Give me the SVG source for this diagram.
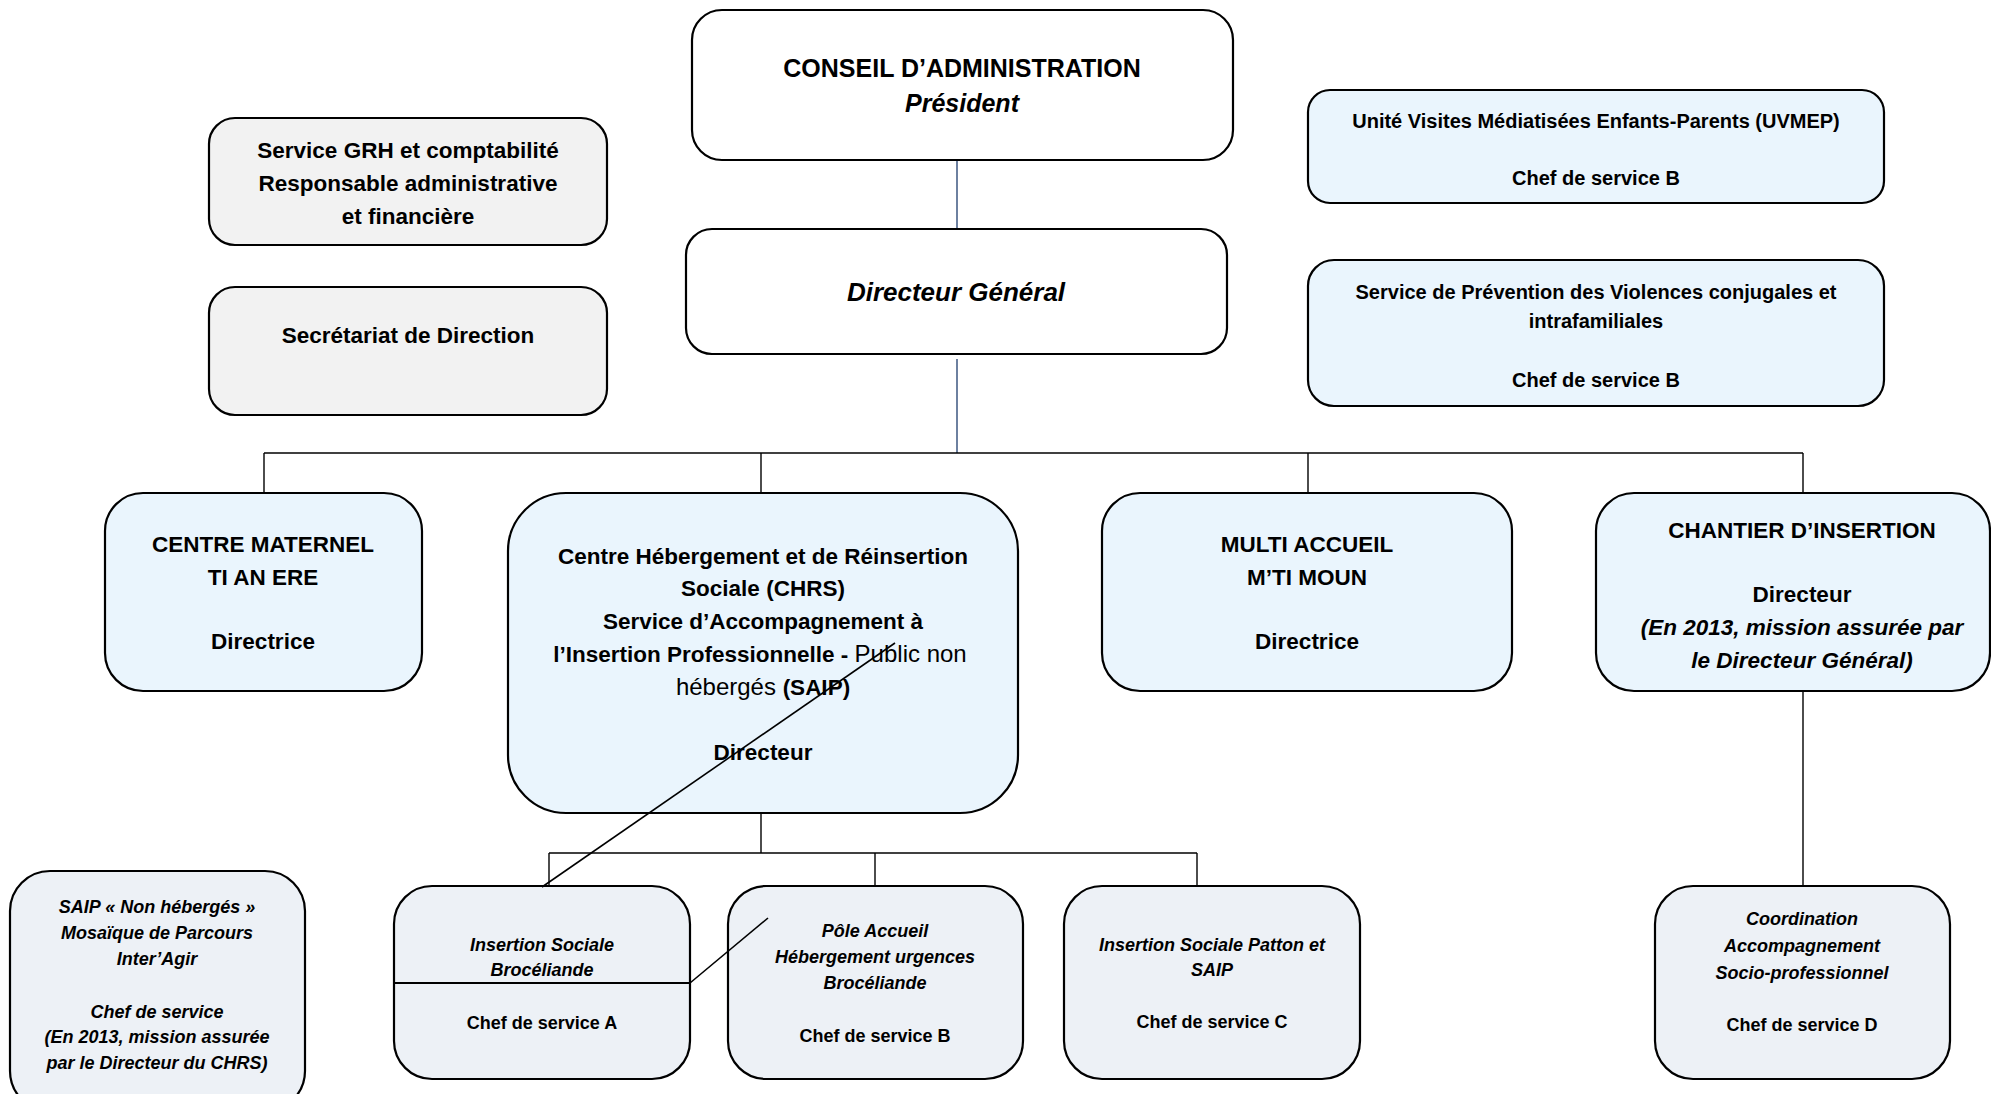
<svg xmlns="http://www.w3.org/2000/svg" width="1991" height="1094" viewBox="0 0 1991 1094">
<style>
  text { font-family: "Liberation Sans", Arial, sans-serif; fill: #000; text-anchor: middle; font-weight: bold; }
  .box { stroke: #000; stroke-width: 2.2; }
  .white { fill: #ffffff; }
  .gray { fill: #f2f2f2; }
  .blue { fill: #eaf5fd; }
  .pale { fill: #edf1f6; }
  .it { font-style: italic; }
  .reg { font-weight: normal; font-size: 24px; }
  .t26 { font-size: 25px; }
  .t23 { font-size: 22.5px; }
  .t20 { font-size: 20px; }
  .t18 { font-size: 18px; }
  .conn line, .conn polyline { stroke: #000; stroke-width: 1.4; fill: none; }
  .conn .navy { stroke: #2e4a78; }
</style>

<g id="connectors" class="conn">
  <line class="navy" x1="957" y1="160" x2="957" y2="229"/>
  <line class="navy" x1="957" y1="359" x2="957" y2="453"/>
  <line x1="264" y1="453" x2="1803" y2="453"/>
  <line x1="264" y1="453" x2="264" y2="493"/>
  <line x1="761" y1="453" x2="761" y2="493"/>
  <line x1="1308" y1="453" x2="1308" y2="493"/>
  <line x1="1803" y1="453" x2="1803" y2="493"/>
  <line x1="761" y1="813" x2="761" y2="853"/>
  <line x1="549" y1="853" x2="1197" y2="853"/>
  <line x1="549" y1="853" x2="549" y2="886"/>
  <line x1="875" y1="853" x2="875" y2="886"/>
  <line x1="1197" y1="853" x2="1197" y2="886"/>
  <line x1="1803" y1="691" x2="1803" y2="886"/>
</g>

<g id="conseil">
  <rect class="box white" x="692" y="10" width="541" height="150" rx="30"/>
  <text class="t26" x="962" y="77">CONSEIL D’ADMINISTRATION</text>
  <text class="t26 it" x="962" y="112">Président</text>
</g>

<g id="directeur-general">
  <rect class="box white" x="686" y="229" width="541" height="125" rx="26"/>
  <text class="t26 it" x="956" y="301" style="font-size:26px">Directeur Général</text>
</g>

<g id="grh">
  <rect class="box gray" x="209" y="118" width="398" height="127" rx="26"/>
  <text class="t23" x="408" y="158">Service GRH et comptabilité</text>
  <text class="t23" x="408" y="191">Responsable administrative</text>
  <text class="t23" x="408" y="224">et financière</text>
</g>

<g id="secretariat">
  <rect class="box gray" x="209" y="287" width="398" height="128" rx="26"/>
  <text class="t23" x="408" y="343">Secrétariat de Direction</text>
</g>

<g id="uvmep">
  <rect class="box blue" x="1308" y="90" width="576" height="113" rx="22"/>
  <text class="t20" x="1596" y="128">Unité Visites Médiatisées Enfants-Parents (UVMEP)</text>
  <text class="t20" x="1596" y="185">Chef de service B</text>
</g>

<g id="violences">
  <rect class="box blue" x="1308" y="260" width="576" height="146" rx="26"/>
  <text class="t20" x="1596" y="299">Service de Prévention des Violences conjugales et</text>
  <text class="t20" x="1596" y="328">intrafamiliales</text>
  <text class="t20" x="1596" y="387">Chef de service B</text>
</g>

<g id="centre-maternel">
  <rect class="box blue" x="105" y="493" width="317" height="198" rx="38"/>
  <text class="t23" x="263" y="552">CENTRE MATERNEL</text>
  <text class="t23" x="263" y="585">TI AN ERE</text>
  <text class="t23" x="263" y="649">Directrice</text>
</g>

<g id="chrs">
  <rect class="box blue" x="508" y="493" width="510" height="320" rx="58"/>
  <text class="t23" x="763" y="564">Centre Hébergement et de Réinsertion</text>
  <text class="t23" x="763" y="596">Sociale (CHRS)</text>
  <text class="t23" x="763" y="629">Service d’Accompagnement à</text>
  <text class="t23" x="760" y="662">l’Insertion Professionnelle - <tspan class="reg">Public non</tspan></text>
  <text class="t23" x="763" y="695"><tspan class="reg">hébergés </tspan>(SAIP)</text>
  <text class="t23" x="763" y="760">Directeur</text>
</g>

<g id="multi-accueil">
  <rect class="box blue" x="1102" y="493" width="410" height="198" rx="38"/>
  <text class="t23" x="1307" y="552">MULTI ACCUEIL</text>
  <text class="t23" x="1307" y="585">M’TI MOUN</text>
  <text class="t23" x="1307" y="649">Directrice</text>
</g>

<g id="chantier">
  <rect class="box blue" x="1596" y="493" width="394" height="198" rx="38"/>
  <text class="t23" x="1802" y="538">CHANTIER D’INSERTION</text>
  <text class="t23" x="1802" y="602">Directeur</text>
  <text class="t23 it" x="1802" y="635">(En 2013, mission assurée par</text>
  <text class="t23 it" x="1802" y="668">le Directeur Général)</text>
</g>

<g id="saip">
  <rect class="box pale" x="10" y="871" width="295" height="240" rx="40"/>
  <text class="t18 it" x="157" y="913">SAIP « Non hébergés »</text>
  <text class="t18 it" x="157" y="939">Mosaïque de Parcours</text>
  <text class="t18 it" x="157" y="965">Inter’Agir</text>
  <text class="t18 it" x="157" y="1018">Chef de service</text>
  <text class="t18 it" x="157" y="1043">(En 2013, mission assurée</text>
  <text class="t18 it" x="157" y="1069">par le Directeur du CHRS)</text>
</g>

<g id="insertion-sociale-broceliande">
  <rect class="box pale" x="394" y="886" width="296" height="193" rx="38"/>
  <line x1="394" y1="983" x2="690" y2="983" stroke="#000" stroke-width="2.2"/>
  <text class="t18 it" x="542" y="951">Insertion Sociale</text>
  <text class="t18 it" x="542" y="976">Brocéliande</text>
  <text class="t18" x="542" y="1029">Chef de service A</text>
</g>

<g id="pole-accueil">
  <rect class="box pale" x="728" y="886" width="295" height="193" rx="38"/>
  <text class="t18 it" x="875" y="937">Pôle Accueil</text>
  <text class="t18 it" x="875" y="963">Hébergement urgences</text>
  <text class="t18 it" x="875" y="989">Brocéliande</text>
  <text class="t18" x="875" y="1042">Chef de service B</text>
</g>

<g id="insertion-sociale-patton">
  <rect class="box pale" x="1064" y="886" width="296" height="193" rx="38"/>
  <text class="t18 it" x="1212" y="951">Insertion Sociale Patton et</text>
  <text class="t18 it" x="1212" y="976">SAIP</text>
  <text class="t18" x="1212" y="1028">Chef de service C</text>
</g>

<g id="coordination">
  <rect class="box pale" x="1655" y="886" width="295" height="193" rx="38"/>
  <text class="t18 it" x="1802" y="925">Coordination</text>
  <text class="t18 it" x="1802" y="952">Accompagnement</text>
  <text class="t18 it" x="1802" y="979">Socio-professionnel</text>
  <text class="t18" x="1802" y="1031">Chef de service D</text>
</g>

<g id="diagonals" class="conn">
  <line x1="542" y1="887" x2="895" y2="643" style="stroke-width:1.6"/>
  <line x1="690" y1="983" x2="768" y2="918" style="stroke-width:1.6"/>
</g>
</svg>
